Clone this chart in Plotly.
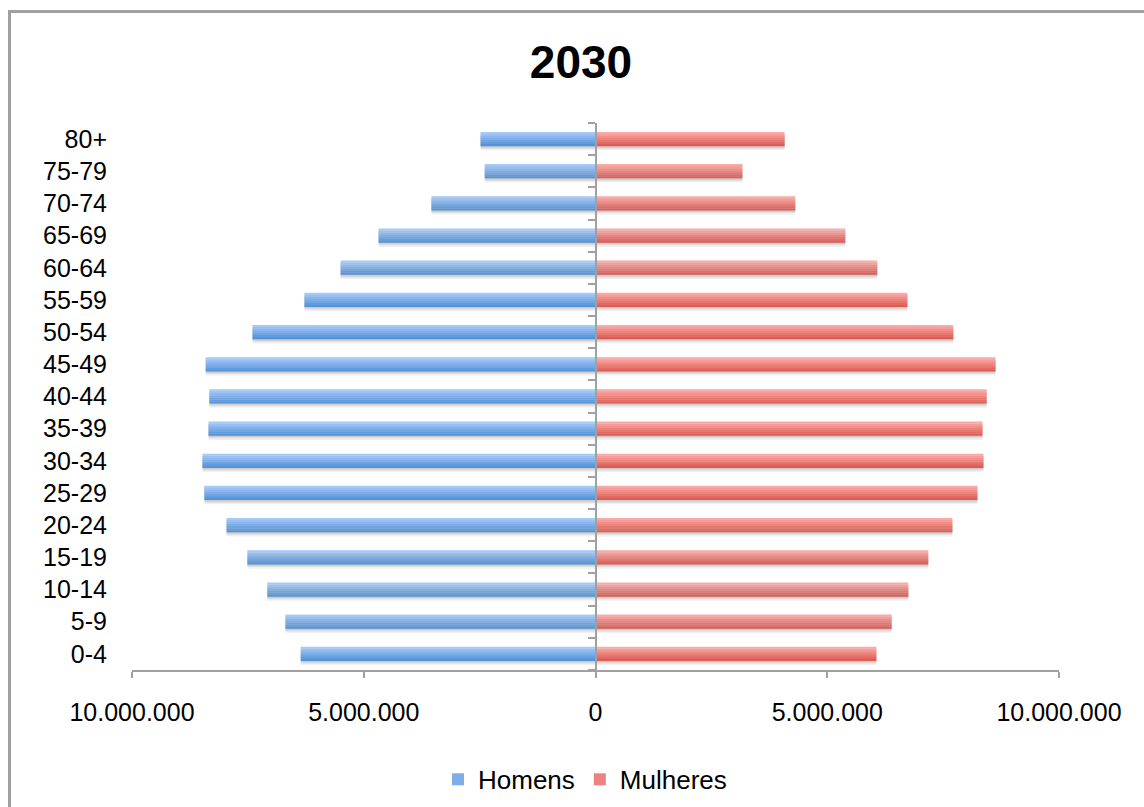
import plotly.graph_objects as go

# ---------------- data ----------------
idades = ["0-4", "5-9", "10-14", "15-19", "20-24", "25-29", "30-34", "35-39",
          "40-44", "45-49", "50-54", "55-59", "60-64", "65-69", "70-74", "75-79", "80+"]
homens = [6360000, 6690000, 7080000, 7510000, 7960000, 8440000, 8480000, 8350000,
          8330000, 8410000, 7400000, 6280000, 5500000, 4680000, 3540000, 2390000, 2480000]
mulheres = [6060000, 6390000, 6750000, 7180000, 7700000, 8240000, 8370000, 8350000,
            8440000, 8630000, 7720000, 6730000, 6080000, 5390000, 4310000, 3170000, 4080000]
tick_vals = [-10000000, -5000000, 0, 5000000, 10000000]
tick_text = ["10.000.000", "5.000.000", "0", "5.000.000", "10.000.000"]
titulo = "2030"
nomes = ["Homens", "Mulheres"]

# ---------------- style ----------------
FONT = "Liberation Sans, Arial, sans-serif"
GRAY = "#a0a0a0"
BAR_W = 0.44
N_BANDS = 7
blue_top, blue_bot = (166, 201, 247), (84, 147, 215)
red_top, red_bot = (250, 170, 166), (222, 92, 86)


def mix(c1, c2, t):
    return "rgb(%d,%d,%d)" % tuple(round(a + (b - a) * t) for a, b in zip(c1, c2))


fig = go.Figure()

x_h = [-v for v in homens]
x_m = list(mulheres)

# shadows
for xs in (x_h, x_m):
    for off, alpha in ((0.13, 0.06), (0.08, 0.08), (0.04, 0.08)):
        fig.add_trace(go.Bar(x=xs, y=idades, orientation="h", width=BAR_W,
                             offset=-BAR_W / 2 - off,
                             marker=dict(color="rgba(0,0,0,%.2f)" % alpha, line=dict(width=0)),
                             showlegend=False, hoverinfo="skip"))

# gradient bands
band_w = BAR_W / N_BANDS
for name, xs, top, bot in ((nomes[0], x_h, blue_top, blue_bot),
                           (nomes[1], x_m, red_top, red_bot)):
    for i in range(N_BANDS):
        t = i / (N_BANDS - 1)
        fig.add_trace(go.Bar(
            x=xs, y=idades, orientation="h", name=name, legendgroup=name,
            width=band_w * 1.05, offset=BAR_W / 2 - (i + 1) * band_w,
            marker=dict(color=mix(top, bot, t), line=dict(width=0)),
            showlegend=(i == N_BANDS // 2), hoverinfo="skip" if i else None))

# dummy trace to carry categories on the centre axis
fig.add_trace(go.Scatter(x=[0] * len(idades), y=idades, yaxis="y2", mode="markers",
                         marker=dict(opacity=0), showlegend=False, hoverinfo="skip"))

fig.update_layout(
    width=1144, height=807,
    margin=dict(l=132, r=85, t=123, b=137, autoexpand=False),
    paper_bgcolor="white", plot_bgcolor="white",
    barmode="overlay",
    font=dict(family=FONT, size=25, color="black"),
    title=dict(text="<b>%s</b>" % titulo, x=581 / 1144, xanchor="center",
               y=1 - 62 / 807, yanchor="middle", font=dict(family=FONT, size=46, color="black")),
    xaxis=dict(range=[-10000000, 10000000], tickvals=tick_vals, ticktext=tick_text,
               showgrid=False, zeroline=False, showline=True, linecolor=GRAY, linewidth=2,
               ticks="outside", ticklen=6, tickwidth=2, tickcolor=GRAY, automargin=False,
               ticklabelstandoff=13, tickfont=dict(size=25, color="black"), fixedrange=True),
    yaxis=dict(type="category", categoryorder="array", categoryarray=idades,
               range=[-0.5, len(idades) - 0.5], showgrid=False, zeroline=False,
               showline=False, ticks="", ticklabelstandoff=24, automargin=False,
               tickfont=dict(size=25, color="black"), fixedrange=True),
    yaxis2=dict(type="category", categoryorder="array", categoryarray=idades,
                range=[-0.5, len(idades) - 0.5], overlaying="y", anchor="free", position=0.5,
                side="left", showgrid=False, zeroline=False, showline=True, linecolor=GRAY,
                linewidth=2, ticks="outside", ticklen=7, tickwidth=2, tickcolor=GRAY,
                tickson="boundaries", showticklabels=False, fixedrange=True, automargin=False),
    legend=dict(orientation="h", x=(585 - 132) / 927, xanchor="center", y=-0.2, yanchor="middle",
                font=dict(size=26, color="black"), bgcolor="rgba(0,0,0,0)",
                itemclick=False, itemdoubleclick=False),
    shapes=[dict(type="rect", xref="paper", yref="paper",
                 x0=(9.5 - 132) / 927, x1=(1160 - 132) / 927,
                 y0=(670 - 825) / 547, y1=(670 - 11.5) / 547,
                 line=dict(color=GRAY, width=3), fillcolor="rgba(0,0,0,0)", layer="below")],
)

fig.write_html("out.html")
